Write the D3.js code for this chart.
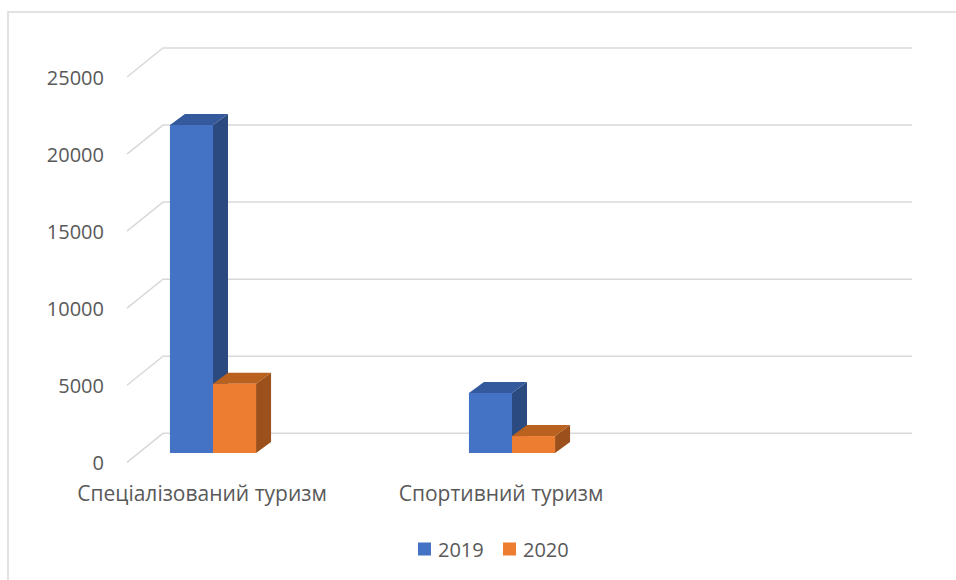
<!DOCTYPE html>
<html>
<head>
<meta charset="utf-8">
<script src="https://cdn.jsdelivr.net/npm/d3@7"></script>
<style>
  html, body { margin: 0; padding: 0; background: #fff; }
  svg { display: block; }
  text { font-family: "Open Sans", "Noto Sans", sans-serif; fill: #595959; }
</style>
</head>
<body>
<svg id="chart" width="956" height="580"></svg>
<script>
// ---- data ----
const categories = ["Спеціалізований туризм", "Спортивний туризм"];
const seriesNames = ["2019", "2020"];
const values2019 = [21300, 3900];
const values2020 = [4500, 1100];
const yTicks = [0, 5000, 10000, 15000, 20000, 25000];
const seriesColors = {
  "2019": { front: "#4472C4", top: "#34599c", side: "#2b4a80" },
  "2020": { front: "#ED7D31", top: "#b9611f", side: "#9c501b" }
};

const svg = d3.select("#chart");

// outer chart border (cropped at right/bottom)
svg.append("path")
  .attr("d", "M8,582 L8,12 L958,12")
  .attr("fill", "none").attr("stroke", "#d9d9d9").attr("stroke-width", 1.5);

// 3D geometry
const wallDX = -36, wallDY = 29;      // back wall -> front edge of side wall
const barDX = 15, barDY = -11;        // bar depth offset
const backLeft = 163, backRight = 912;

const yBack = d3.scaleLinear().domain([0, 25000]).range([433.3, 48]);
const yBar = d3.scaleLinear().domain([0, 25000]).range([453, 68]);

const x = d3.scaleBand().domain(categories).range([63.5, 661.5])
  .paddingInner(0.712).paddingOuter(0.356);
const xs = d3.scaleBand().domain(seriesNames).range([0, x.bandwidth()]);

// gridlines: back wall + side wall diagonal
const grid = svg.append("g");
yTicks.forEach(v => {
  const yb = yBack(v);
  grid.append("path")
    .attr("d", `M${backLeft + wallDX},${yb + wallDY} L${backLeft},${yb} L${backRight},${yb}`)
    .attr("fill", "none").attr("stroke", "#d9d9d9").attr("stroke-width", 1.5);
});

// y tick labels
svg.append("g").selectAll("text").data(yTicks).join("text")
  .attr("x", 104)
  .attr("y", d => yBack(d) + wallDY)
  .attr("text-anchor", "end")
  .attr("dominant-baseline", "central")
  .attr("font-size", 20)
  .text(d => d);

// bars
const barData = [];
categories.forEach((c, i) => {
  barData.push({ cat: c, s: "2019", v: values2019[i] });
  barData.push({ cat: c, s: "2020", v: values2020[i] });
});

const bars = svg.append("g");
barData.forEach(d => {
  const x0 = x(d.cat) + xs(d.s);
  const w = xs.bandwidth();
  const y0 = yBar(0), y1 = yBar(d.v);
  const col = seriesColors[d.s];
  const g = bars.append("g");
  // side face
  g.append("path")
    .attr("d", `M${x0 + w},${y1} L${x0 + w + barDX},${y1 + barDY} L${x0 + w + barDX},${y0 + barDY} L${x0 + w},${y0} Z`)
    .attr("fill", col.side);
  // top face
  g.append("path")
    .attr("d", `M${x0},${y1} L${x0 + w},${y1} L${x0 + w + barDX},${y1 + barDY} L${x0 + barDX},${y1 + barDY} Z`)
    .attr("fill", col.top);
  // front face
  g.append("rect")
    .attr("x", x0).attr("y", y1).attr("width", w).attr("height", y0 - y1)
    .attr("fill", col.front);
});

// category labels
svg.append("g").selectAll("text").data(categories).join("text")
  .attr("x", d => x(d) + x.bandwidth() / 2 - 11)
  .attr("y", 493)
  .attr("text-anchor", "middle")
  .attr("dominant-baseline", "central")
  .attr("font-size", 21)
  .text(d => d);

// legend
const legendX = d3.scalePoint().domain(seriesNames).range([418, 503]);
const lg = svg.append("g").selectAll("g").data(seriesNames).join("g")
  .attr("transform", d => `translate(${legendX(d)},549)`);
lg.append("rect").attr("x", 0).attr("y", -6.5).attr("width", 13).attr("height", 13)
  .attr("fill", d => seriesColors[d].front);
lg.append("text").attr("x", 20).attr("y", 0)
  .attr("dominant-baseline", "central").attr("font-size", 20)
  .text(d => d);
</script>
</body>
</html>
